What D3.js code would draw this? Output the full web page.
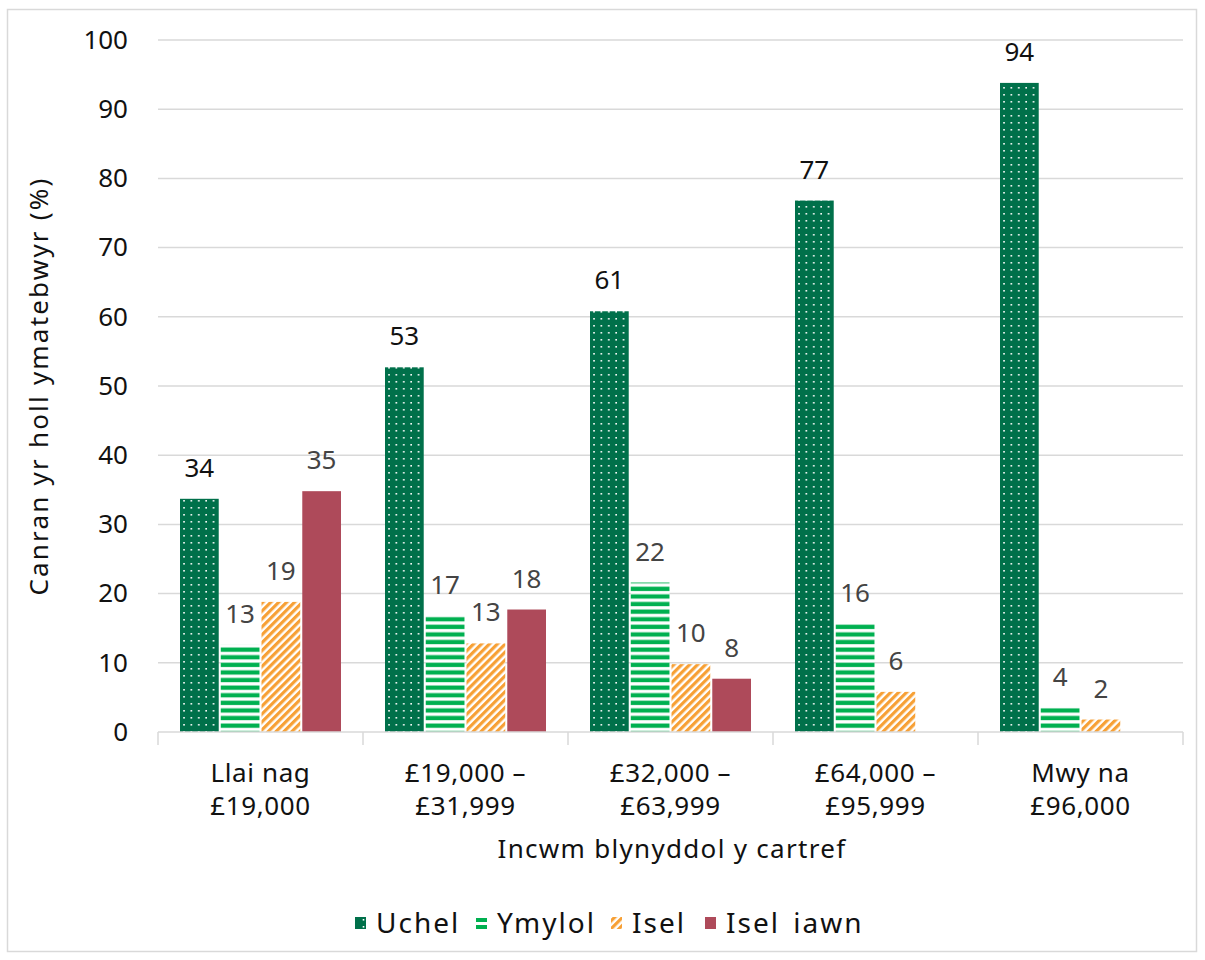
<!DOCTYPE html>
<html><head><meta charset="utf-8">
<script src="https://cdn.jsdelivr.net/npm/d3@7/dist/d3.min.js"></script>
<style>body{margin:0;background:#fff;} svg{display:block;} text{font-family:"Noto Sans",sans-serif;}</style>
</head><body><svg id="c" width="1205" height="960"></svg>
<script>
const categories = [["Llai nag","£19,000"],["£19,000 –","£31,999"],["£32,000 –","£63,999"],["£64,000 –","£95,999"],["Mwy na","£96,000"]];
const seriesNames = ["Uchel","Ymylol","Isel","Isel iawn"];
const uchel   = [33.7, 52.7, 60.8, 76.8, 93.8];
const ymylol  = [12.6, 16.7, 21.6, 15.6, 3.5];
const isel    = [18.8, 12.8, 9.8, 5.8, 1.8];
const iselIawn= [34.8, 17.7, 7.7, null, null];
const yTicks  = [0,10,20,30,40,50,60,70,80,90,100];
const seriesValues = [uchel, ymylol, isel, iselIawn];
const colors = ["#00704a","#00b050","#f7a035","#ae4a5a"];
const fills = ["url(#pDots)","url(#pStripes)","url(#pDiag)",colors[3]];
const legFills = ["url(#lDots)","url(#lStripes)","url(#pDiag)",colors[3]];
const labelColors = ["#111","#444","#444","#444"];
const FS = 26;

const svg = d3.select("#c");
const defs = svg.append("defs");
let p = defs.append("pattern").attr("id","pDots").attr("patternUnits","userSpaceOnUse").attr("width",7.4).attr("height",7);
p.append("rect").attr("width",7.4).attr("height",7).attr("fill",colors[0]);
p.append("rect").attr("x",3).attr("y",3).attr("width",1.6).attr("height",1.6).attr("fill","#fff");
p = defs.append("pattern").attr("id","lDots").attr("patternUnits","userSpaceOnUse").attr("width",11).attr("height",7).attr("x",355).attr("y",916);
p.append("rect").attr("width",11).attr("height",7).attr("fill",colors[0]);
p.append("rect").attr("x",4.7).attr("y",3).attr("width",1.6).attr("height",1.6).attr("fill","#fff");
p = defs.append("pattern").attr("id","pStripes").attr("patternUnits","userSpaceOnUse").attr("width",8).attr("height",7.6);
p.append("rect").attr("width",8).attr("height",7.6).attr("fill","#fff");
p.append("rect").attr("y",1.5).attr("width",8).attr("height",4.3).attr("fill",colors[1]);
p = defs.append("pattern").attr("id","lStripes").attr("patternUnits","userSpaceOnUse").attr("width",11).attr("height",7).attr("x",0).attr("y",917);
p.append("rect").attr("width",11).attr("height",7).attr("fill","#fff");
p.append("rect").attr("y",1).attr("width",11).attr("height",4).attr("fill",colors[1]);
p = defs.append("pattern").attr("id","pDiag").attr("patternUnits","userSpaceOnUse").attr("width",5.6).attr("height",5.6).attr("patternTransform","rotate(45)");
p.append("rect").attr("width",5.6).attr("height",5.6).attr("fill","#fff");
p.append("rect").attr("width",3.2).attr("height",5.6).attr("fill",colors[2]);

svg.append("rect").attr("x",7.5).attr("y",9.5).attr("width",1189).attr("height",942).attr("fill","none").attr("stroke","#d9d9d9").attr("stroke-width",1.5);

const m = {left:158, right:1183, top:40, bottom:732};
const x0 = d3.scaleBand().domain(d3.range(categories.length)).range([m.left,m.right]);
const x1 = d3.scaleBand().domain(d3.range(seriesNames.length)).range([22, x0.bandwidth()-22]).paddingInner(0.05);
const y = d3.scaleLinear().domain([0,100]).range([m.bottom,m.top]);

svg.append("g").selectAll("line").data(yTicks.filter(d=>d>0)).join("line")
  .attr("x1",m.left).attr("x2",m.right).attr("y1",d=>y(d)).attr("y2",d=>y(d))
  .attr("stroke","#d9d9d9").attr("stroke-width",1.5);

const yAxis = svg.append("g").attr("transform",`translate(${m.left},0)`).call(d3.axisLeft(y).tickValues(yTicks).tickSize(0).tickPadding(30));
yAxis.select(".domain").remove();
yAxis.selectAll("text").attr("font-size",FS).attr("fill","#111").attr("font-family","'Noto Sans',sans-serif");

const groups = svg.append("g").selectAll("g").data(categories).join("g").attr("transform",(d,i)=>`translate(${x0(i)},0)`);
groups.each(function(c,ci){
  const g = d3.select(this);
  seriesValues.forEach((vals,si)=>{
    const v = vals[ci];
    if(v==null) return;
    g.append("rect").attr("x",x1(si)).attr("width",x1.bandwidth()).attr("y",y(v)).attr("height",y(0)-y(v)).attr("fill",fills[si]);
    g.append("text").attr("x",x1(si)+x1.bandwidth()/2).attr("y",y(v)-22).attr("text-anchor","middle")
      .attr("font-size",FS).attr("fill",labelColors[si]).text(Math.round(v));
  });
});

const xAxis = svg.append("g").attr("transform",`translate(0,${m.bottom})`);
xAxis.append("line").attr("x1",m.left).attr("x2",m.right).attr("stroke","#d9d9d9").attr("stroke-width",1.5);
xAxis.selectAll("line.t").data(d3.range(categories.length+1)).join("line").attr("class","t")
  .attr("x1",i=>m.left+i*x0.bandwidth()).attr("x2",i=>m.left+i*x0.bandwidth()).attr("y1",0).attr("y2",13)
  .attr("stroke","#d9d9d9").attr("stroke-width",1.5);
const xl = xAxis.selectAll("text.c").data(categories).join("text").attr("class","c")
  .attr("x",(d,i)=>x0(i)+x0.bandwidth()/2).attr("y",50).attr("text-anchor","middle").attr("font-size",FS).attr("fill","#111").attr("letter-spacing",0.6);
xl.each(function(d){
  const t=d3.select(this);
  d.forEach((s,k)=>t.append("tspan").attr("x",t.attr("x")).attr("dy",k?33:0).text(s));
});

svg.append("text").attr("x",672).attr("y",858).attr("text-anchor","middle").attr("font-size",FS).attr("letter-spacing",1.3).attr("fill","#111").text("Incwm blynyddol y cartref");
svg.append("text").attr("transform","translate(48,386) rotate(-90)").attr("text-anchor","middle").attr("font-size",FS).attr("letter-spacing",2.2).attr("fill","#111").text("Canran yr holl ymatebwyr (%)");

const legX = [355, 476, 611, 705];
const leg = svg.append("g").selectAll("g").data(seriesNames).join("g").attr("transform",(d,i)=>`translate(${legX[i]},0)`);
leg.append("rect").attr("x",0).attr("y",917).attr("width",11).attr("height",12).attr("fill",(d,i)=>legFills[i]);
leg.append("text").attr("x",21).attr("y",933).attr("font-size",28).attr("letter-spacing",2).attr("word-spacing",4).attr("fill","#111").text(d=>d);
</script></body></html>
